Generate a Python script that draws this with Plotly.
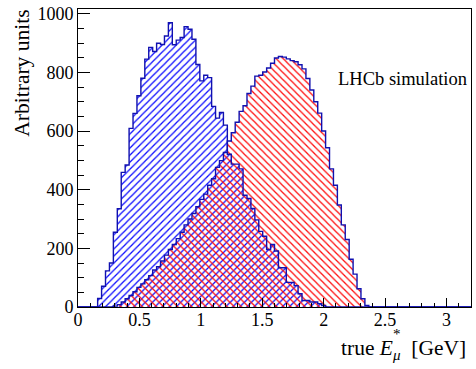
import plotly.graph_objects as go

# Histogram binning
x_min, x_max, n_bins = 0.0, 3.2, 100

# Blue histogram (first non-empty bin index and bin contents)
blue_first_bin = 5
blue_counts = [29, 71, 123, 150, 255, 335, 459, 484, 609, 660,
               720, 780, 845, 885, 871, 899, 895, 924, 969, 894,
               910, 919, 956, 947, 913, 827, 771, 790, 782, 684,
               644, 663, 620, 521, 487, 487, 471, 381, 370, 336,
               297, 258, 241, 196, 213, 191, 134, 134, 84, 84,
               73, 45, 22, 22, 17, 17, 11, 5]

# Red histogram
red_first_bin = 9
red_counts = [3, 8, 17, 28, 39, 52, 67, 79, 93, 107,
              126, 137, 157, 177, 196, 213, 233, 255, 280, 300,
              319, 342, 367, 385, 415, 437, 476, 499, 527, 566,
              594, 630, 667, 686, 728, 753, 787, 790, 801, 815,
              831, 849, 854, 852, 846, 840, 836, 826, 812, 779,
              740, 700, 661, 600, 543, 471, 415, 348, 280, 230,
              163, 112, 62, 28, 5]

x_tick_vals = [0, 0.5, 1, 1.5, 2, 2.5, 3]
x_tick_text = ["0", "0.5", "1", "1.5", "2", "2.5", "3"]
y_tick_vals = [0, 200, 400, 600, 800, 1000]
y_tick_text = ["0", "200", "400", "600", "800", "1000"]

bw = (x_max - x_min) / n_bins


def full(first, vals):
    return [0] * first + list(vals) + [0] * (n_bins - first - len(vals))


blue = full(blue_first_bin, blue_counts)
red = full(red_first_bin, red_counts)
centers = [x_min + (i + 0.5) * bw for i in range(n_bins)]
edges = [x_min + i * bw for i in range(n_bins + 1)]

FONT = "Liberation Serif"
OUTLINE = "#1010b0"
W, H = 476, 369
ML, MR, MT, MB = 78, 4, 5, 62
PW = W - ML - MR
PH = H - MT - MB


def px_x(p):
    return (p - ML) / PW


def px_y(p):
    return (H - MB - p) / PH


fig = go.Figure()
fig.add_trace(go.Bar(
    x=centers, y=blue, width=bw,
    marker=dict(color="#0a0aff", line=dict(width=0),
                pattern=dict(shape="/", fillmode="replace", size=5, solidity=0.25)),
    hoverinfo="skip", showlegend=False))
fig.add_trace(go.Bar(
    x=centers, y=red, width=bw,
    marker=dict(color="#ff0a0a", line=dict(width=0),
                pattern=dict(shape="\\", fillmode="replace", size=5, solidity=0.25)),
    hoverinfo="skip", showlegend=False))
fig.add_trace(go.Scatter(
    x=edges, y=blue + [blue[-1]], mode="lines",
    line=dict(color=OUTLINE, width=1.4, shape="hv"),
    hoverinfo="skip", showlegend=False))
fig.add_trace(go.Scatter(
    x=edges, y=red + [red[-1]], mode="lines",
    line=dict(color=OUTLINE, width=1.4, shape="hv"),
    hoverinfo="skip", showlegend=False))

fig.update_layout(
    width=W, height=H,
    margin=dict(l=ML, r=MR, t=MT, b=MB),
    paper_bgcolor="white", plot_bgcolor="white",
    barmode="overlay", bargap=0,
    font=dict(family=FONT, size=18, color="black"),
    showlegend=False,
)
fig.update_xaxes(
    range=[x_min, x_max], tickmode="array", tickvals=x_tick_vals, ticktext=x_tick_text,
    ticks="inside", ticklen=9, tickwidth=1, tickcolor="black",
    minor=dict(dtick=0.1, tick0=0, ticks="inside", ticklen=4.5, tickcolor="black", tickwidth=1),
    showline=True, linecolor="black", linewidth=1, mirror=True,
    showgrid=False, zeroline=False, tickfont=dict(family=FONT, size=18, color="black"),
    ticklabelstandoff=-4,
)
fig.update_yaxes(
    range=[0, 1016], tickmode="array", tickvals=y_tick_vals, ticktext=y_tick_text,
    ticks="inside", ticklen=12, tickwidth=1, tickcolor="black",
    minor=dict(dtick=50, tick0=0, ticks="inside", ticklen=6, tickcolor="black", tickwidth=1),
    showline=True, linecolor="black", linewidth=1, mirror=True,
    showgrid=False, zeroline=False, tickfont=dict(family=FONT, size=18, color="black"),
)

# y-axis title (top aligned, ROOT style)
fig.add_annotation(
    text="Arbitrary units", textangle=-90, showarrow=False,
    xref="paper", yref="paper", x=px_x(21), y=px_y(4), xanchor="center", yanchor="top",
    font=dict(family=FONT, size=21.5, color="black"))
# x-axis title
fig.add_annotation(
    text="true <i>E</i><sub><i>μ</i></sub>&#160; [GeV]", showarrow=False,
    xref="paper", yref="paper", x=px_x(469), y=px_y(350), xanchor="right", yanchor="middle",
    font=dict(family=FONT, size=21.5, color="black"))
fig.add_annotation(
    text="*", showarrow=False,
    xref="paper", yref="paper", x=px_x(398), y=px_y(334), xanchor="center", yanchor="middle",
    font=dict(family=FONT, size=15, color="black"))
fig.add_annotation(
    text="LHCb simulation", showarrow=False,
    xref="paper", yref="paper", x=px_x(470), y=px_y(76), xanchor="right", yanchor="middle",
    font=dict(family=FONT, size=18.5, color="black"))

fig.write_html("out.html")
